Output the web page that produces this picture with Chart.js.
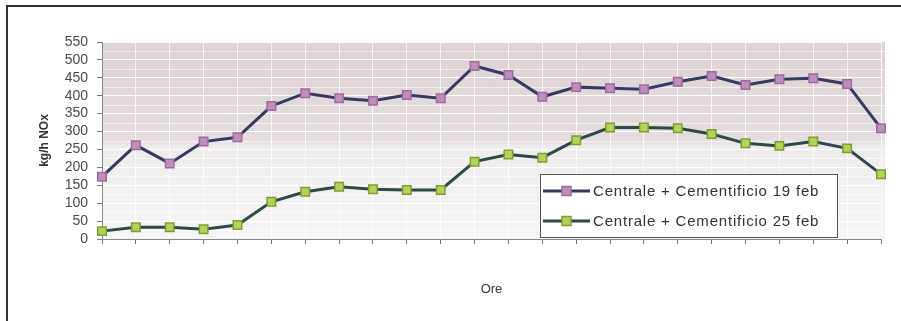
<!DOCTYPE html>
<html lang="it">

<head>
    <meta charset="utf-8">
    <title>Centrale + Cementificio</title>
    <script src="https://cdn.jsdelivr.net/npm/chart.js"></script>
    <style>
        body { margin: 0; background: #fff; }
        canvas { display: block; }
    </style>
</head>

<body>
    <canvas id="chart" width="901" height="321"></canvas>

    <script>
        // ore del giorno (asse x, etichette non mostrate)
        const ore = ['1', '2', '3', '4', '5', '6', '7', '8', '9', '10', '11', '12',
            '13', '14', '15', '16', '17', '18', '19', '20', '21', '22', '23', '24'];
        // kg/h NOx
        const feb19 = [174, 262, 211, 272, 284, 371, 407, 393, 386, 402, 393, 483,
            458, 397, 424, 421, 418, 439, 455, 430, 446, 449, 433, 309];
        const feb25 = [22, 33, 33, 27, 39, 104, 132, 146, 139, 137, 137, 216,
            236, 227, 276, 311, 311, 309, 293, 267, 260, 272, 253, 181];
        const nomi = ['Centrale + Cementificio 19 feb', 'Centrale + Cementificio 25 feb'];

        const FONT = 'Liberation Sans, Arial, sans-serif';

        // sfondo grigio-rosato dell'area del grafico + cornice esterna
        const sfondo = {
            id: 'sfondo',
            beforeDraw(chart) {
                const { ctx, chartArea: a } = chart;
                ctx.save();
                const g = ctx.createLinearGradient(0, a.top, 0, a.bottom);
                g.addColorStop(0, '#ddd2d4');
                g.addColorStop(0.5, '#e5dddf');
                g.addColorStop(0.53, '#eeebec');
                g.addColorStop(1, '#f6f5f5');
                ctx.fillStyle = g;
                ctx.fillRect(a.left, a.top, a.right - a.left + 4, a.bottom - a.top);
                // righe sottili ogni 25
                const y = chart.scales.y;
                ctx.strokeStyle = 'rgba(255,255,255,0.6)';
                ctx.lineWidth = 1;
                for (let v = 25; v < 550; v += 50) {
                    const py = Math.round(y.getPixelForValue(v)) + 0.5;
                    ctx.beginPath();
                    ctx.moveTo(a.left, py);
                    ctx.lineTo(a.right + 4, py);
                    ctx.stroke();
                }
                // cornice
                ctx.strokeStyle = '#333';
                ctx.lineWidth = 2;
                ctx.beginPath();
                ctx.moveTo(7, 321);
                ctx.lineTo(7, 6);
                ctx.lineTo(901, 6);
                ctx.stroke();
                ctx.restore();
            }
        };

        // legenda in riquadro dentro l'area del grafico
        const legenda = {
            id: 'legenda',
            afterDraw(chart) {
                const { ctx } = chart;
                const x = 540, y = 174, w = 297, h = 63;
                ctx.save();
                ctx.fillStyle = '#fff';
                ctx.fillRect(x, y, w, h);
                ctx.strokeStyle = '#555';
                ctx.lineWidth = 1;
                ctx.strokeRect(x + 0.5, y + 0.5, w, h);
                chart.data.datasets.forEach((ds, i) => {
                    const cy = y + 17 + i * 30;
                    ctx.strokeStyle = ds.borderColor;
                    ctx.lineWidth = 3;
                    ctx.beginPath();
                    ctx.moveTo(x + 3, cy);
                    ctx.lineTo(x + 50, cy);
                    ctx.stroke();
                    ctx.fillStyle = ds.pointBackgroundColor;
                    ctx.strokeStyle = ds.pointBorderColor;
                    ctx.lineWidth = 1.5;
                    ctx.fillRect(x + 22, cy - 4.5, 9, 9);
                    ctx.strokeRect(x + 22, cy - 4.5, 9, 9);
                    ctx.fillStyle = '#333';
                    ctx.font = '15px ' + FONT;
                    ctx.letterSpacing = '0.8px';
                    ctx.textBaseline = 'middle';
                    ctx.fillText(ds.label, x + 53, cy + 1);
                });
                ctx.restore();
            }
        };

        const data = {
            labels: ore,
            datasets: [{
                label: nomi[0],
                data: feb19,
                borderColor: '#343a62',
                borderWidth: 3,
                pointStyle: 'rect',
                pointRadius: 6,
                pointBorderWidth: 1.5,
                pointBackgroundColor: '#bf8fbb',
                pointBorderColor: '#9d6c9a',
                tension: 0
            }, {
                label: nomi[1],
                data: feb25,
                borderColor: '#2d4a48',
                borderWidth: 3,
                pointStyle: 'rect',
                pointRadius: 6,
                pointBorderWidth: 1.5,
                pointBackgroundColor: '#b2d45a',
                pointBorderColor: '#7e9e34',
                tension: 0
            }]
        };

        const options = {
            responsive: false,
            animation: false,
            layout: { padding: { left: 0, right: 20, top: 42, bottom: 0 } },
            plugins: { legend: { display: false }, tooltip: { enabled: false } },
            scales: {
                x: {
                    offset: false,
                    afterFit(s) { s.height = 82; },
                    ticks: { display: false },
                    grid: { color: 'rgba(255,255,255,0.8)', tickColor: '#777', tickLength: 5, lineWidth: 1 },
                    border: { color: '#888', width: 1 },
                    title: {
                        display: true, text: 'Ore', color: '#333',
                        font: { family: FONT, size: 13 },
                        padding: { top: 0, bottom: 24 }
                    }
                },
                y: {
                    min: 0,
                    max: 550,
                    afterFit(s) { s.width = 102; },
                    ticks: {
                        stepSize: 50, autoSkip: false, color: '#4a4a4a', padding: 9,
                        font: { family: FONT, size: 14 }
                    },
                    grid: { color: '#ffffff', tickColor: '#777', tickLength: 5, lineWidth: 1 },
                    border: { color: '#888', width: 1 },
                    title: {
                        display: true, text: 'kg/h NOx', color: '#333',
                        font: { family: FONT, size: 12, weight: 'bold' },
                        padding: { top: 37, bottom: 0 }
                    }
                }
            }
        };

        new Chart(document.getElementById('chart').getContext('2d'), {
            type: 'line', data: data, options: options, plugins: [sfondo, legenda]
        });
    </script>
</body>

</html>
